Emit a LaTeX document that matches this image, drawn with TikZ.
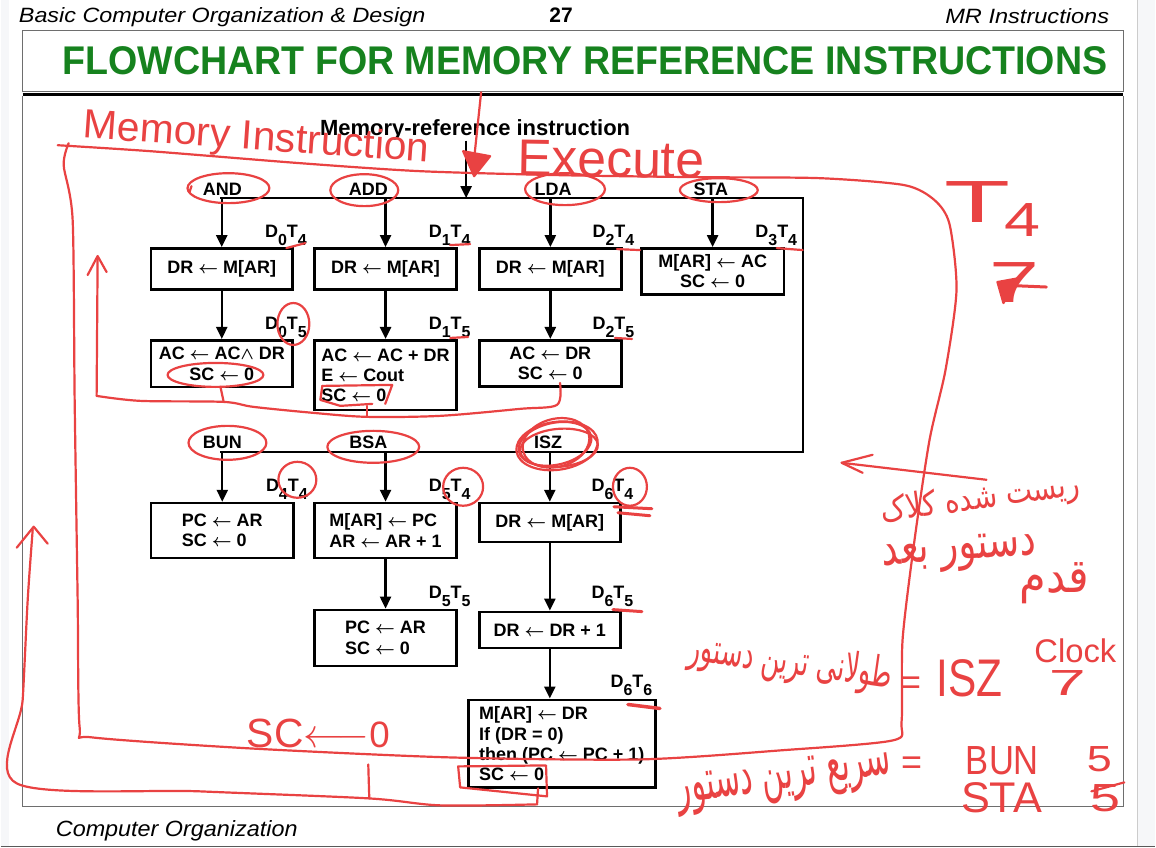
\documentclass[tikz,border=0pt]{standalone}
\usepackage{fontspec}
\usepackage{graphicx}
\setmainfont{Liberation Sans}
\newfontfamily\fafont[Script=Arabic]{DejaVu Sans}
\TeXXeTstate=1
\usetikzlibrary{arrows.meta}
\definecolor{titlegreen}{RGB}{22,130,30}
\definecolor{ink}{RGB}{233,66,66}
\definecolor{framegray}{RGB}{110,110,110}
\definecolor{pagebg}{RGB}{246,247,249}
\newcommand{\lar}{\mbox{\boldmath$\leftarrow$}}
\newcommand{\lwedge}{\mbox{\boldmath$\wedge$}}
\newcommand{\dtlab}[2]{D\raisebox{-8pt}{\fontsize{16}{16}\selectfont #1}T\raisebox{-8pt}{\fontsize{16}{16}\selectfont #2}}
\tikzset{
  txt/.style={font=\fontsize{18}{20.3}\selectfont\bfseries, inner sep=0pt},
  opbox/.style={txt, draw, line width=2.6pt, anchor=north west, inner xsep=6pt},
  arr/.style={line width=2.4pt, -{Triangle[length=12pt,width=11pt]}},
  bus/.style={line width=2.4pt},
  lab/.style={txt, anchor=base east},
  ink/.style={draw=ink, line width=2.2pt, line cap=round, line join=round},
  hand/.style={text=ink, inner sep=0pt, font=\mdseries},
}
\begin{document}
\begin{tikzpicture}[x=1pt,y=-1pt]
% page
\fill[white] (0,0) rectangle (1156,848);
\fill[pagebg] (0,0) rectangle (8,848);
\fill[pagebg] (1138,0) rectangle (1156,848);
\draw[gray!40, line width=0.8pt] (1138,0) -- (1138,848);
\draw[gray!70!black, line width=1.5pt] (0,847) -- (1156,847);
\useasboundingbox (0,0) rectangle (1156,848);

% header / frames
\node[anchor=base west, inner sep=0pt, font=\itshape] (hdrL) at (18,22) {\resizebox{407pt}{15pt}{Basic Computer Organization \& Design}};
\node[anchor=base, inner sep=0pt, font=\fontsize{21}{21}\selectfont\bfseries] (pg) at (561,22) {27};
\node[anchor=base east, inner sep=0pt, font=\itshape] (hdrR) at (1110,23) {\resizebox{164pt}{15pt}{MR Instructions}};
\draw[framegray, line width=1.2pt] (22,30) rectangle (1124,91);
\node[inner sep=0pt, text=titlegreen, font=\bfseries] (title) at (585,60) {\resizebox{1046pt}{28pt}{FLOWCHART FOR MEMORY REFERENCE INSTRUCTIONS}};
\draw[black, line width=3.5pt] (22,94) -- (1124,94);
\draw[framegray, line width=1.2pt] (22,96) -- (22,807) -- (1124,807) -- (1124,96);
\node[anchor=base west, inner sep=0pt, font=\itshape] (ftr) at (55,837) {\resizebox{242pt}{16pt}{Computer Organization}};

% ---------------- flowchart ----------------
\node[txt, font=\fontsize{22}{22}\selectfont\bfseries] (mri) at (475,130) {Memory-reference instruction};
\coordinate (entry) at (466,198);
\coordinate (tl) at (220,198);
\coordinate (tr) at (803,198);
\coordinate (br) at (803,452);
\coordinate (bl) at (220,452);
\draw[bus] (tl) -- (tr) -- (br) -- (bl);
\draw[arr] (mri.south -| entry) -- (entry);

\node[txt, anchor=base] (nAND) at (222,195) {AND};
\node[txt, anchor=base] (nADD) at (368,195) {ADD};
\node[txt, anchor=base] (nLDA) at (553,195) {LDA};
\node[txt, anchor=base] (nSTA) at (711,195) {STA};
\node[txt, anchor=base] (nBUN) at (222,449) {BUN};
\node[txt, anchor=base] (nBSA) at (368,449) {BSA};
\node[txt, anchor=base] (nISZ) at (548,449) {ISZ};

% row 1
\node[opbox, minimum width=142pt, minimum height=41pt] (r1a) at (149,247) {DR \lar{} M[AR]};
\node[opbox, minimum width=142pt, minimum height=41pt] (r1b) at (313,247) {DR \lar{} M[AR]};
\node[opbox, minimum width=142pt, minimum height=41pt] (r1c) at (478,247) {DR \lar{} M[AR]};
\node[opbox, minimum width=143pt, minimum height=46pt, align=center] (r1d) at (640,247) {M[AR] \lar{} AC\\SC \lar{} 0};
% row 2
\node[opbox, minimum width=142pt, minimum height=47pt, align=center, inner xsep=3pt] (r2a) at (149,339) {AC \lar{} AC\lwedge{} DR\\SC \lar{} 0};
\node[opbox, minimum width=142pt, minimum height=70pt, align=left] (r2b) at (313,339) {AC \lar{} AC + DR\\E \lar{} Cout\\SC \lar{} 0};
\node[opbox, minimum width=142pt, minimum height=46pt, align=center] (r2c) at (478,339) {AC \lar{} DR\\SC \lar{} 0};
% row 3
\node[opbox, minimum width=143pt, minimum height=55pt, align=left] (r3a) at (149,502) {PC \lar{} AR\\SC \lar{} 0};
\node[opbox, minimum width=142pt, minimum height=55pt, align=left] (r3b) at (313,502) {M[AR] \lar{} PC\\AR \lar{} AR + 1};
\node[opbox, minimum width=141pt, minimum height=39pt] (r3c) at (478,502) {DR \lar{} M[AR]};
% row 4
\node[opbox, minimum width=142pt, minimum height=56pt, align=left] (r4b) at (313,609) {PC \lar{} AR\\SC \lar{} 0};
\node[opbox, minimum width=141pt, minimum height=36pt] (r4c) at (478,611) {DR \lar{} DR + 1};
% row 5
\node[opbox, minimum width=187pt, minimum height=88pt, align=left] (r5c) at (467,699) {M[AR] \lar{} DR\\If (DR = 0)\\then (PC \lar{} PC + 1)\\SC \lar{} 0};

% arrows
\draw[arr] (r1a.north |- tl) -- (r1a.north);
\draw[arr] (r1b.north |- tl) -- (r1b.north);
\draw[arr] (r1c.north |- tl) -- (r1c.north);
\draw[arr] (r1d.north |- tl) -- (r1d.north);
\draw[arr] (r1a.south) -- (r2a.north);
\draw[arr] (r1b.south) -- (r2b.north);
\draw[arr] (r1c.south) -- (r2c.north);
\draw[arr] (r3a.north |- bl) -- (r3a.north);
\draw[arr] (r3b.north |- bl) -- (r3b.north);
\draw[arr] (r3c.north |- bl) -- (r3c.north);
\draw[arr] (r3b.south) -- (r4b.north);
\draw[arr] (r3c.south) -- (r4c.north);
\draw[arr] (r4c.south) -- (r4c.south |- r5c.north);

% timing labels
\node[lab] (l1a) at ([shift={(13,-10)}]r1a.north east) {\dtlab04};
\node[lab] (l1b) at ([shift={(13,-10)}]r1b.north east) {\dtlab14};
\node[lab] (l1c) at ([shift={(12,-10)}]r1c.north east) {\dtlab24};
\node[lab] (l1d) at ([shift={(12,-10)}]r1d.north east) {\dtlab34};
\node[lab] (l2a) at ([shift={(13,-9)}]r2a.north east) {\dtlab05};
\node[lab] (l2b) at ([shift={(13,-9)}]r2b.north east) {\dtlab15};
\node[lab] (l2c) at ([shift={(12,-9)}]r2c.north east) {\dtlab25};
\node[lab] (l3a) at ([shift={(13,-10)}]r3a.north east) {\dtlab44};
\node[lab] (l3b) at ([shift={(13,-10)}]r3b.north east) {\dtlab54};
\node[lab] (l3c) at ([shift={(12,-10)}]r3c.north east) {\dtlab64};
\node[lab] (l4b) at ([shift={(13,-10)}]r4b.north east) {\dtlab55};
\node[lab] (l4c) at ([shift={(12,-12)}]r4c.north east) {\dtlab65};
\node[lab] (l5c) at ([shift={(-4,-11)}]r5c.north east) {\dtlab66};

% ---------------- red handwriting ----------------
% main loop
\draw[ink] plot[smooth, tension=0.45] coordinates {(57,145) (150,151) (300,163) (420,171) (560,175) (700,177) (820,178) (905,185) (935,200) (950,224) (957,290) (946,370) (930,440) (915,540) (903,640) (902,722) (893,741) (780,751) (640,760) (450,758) (250,749) (92,738) (79,728) (77,600) (74,400) (72,220) (63,165) (68,143)};
% entry arrow
\draw[ink] (481,92) -- (473,168);
\draw[ink, fill=ink] (463,151) -- (490,156) -- (474,176) -- cycle;
\node[hand, rotate=-4] (memi) at (256,139) {\resizebox{347pt}{!}{Memory Instruction}};
\node[hand, rotate=-1] (exec) at (611,159) {\resizebox{187pt}{!}{Execute}};
\draw[ink] (191,186) -- (189,192);
% circles around labels
\draw[ink] (228,188) ellipse [x radius=41pt, y radius=15pt];
\draw[ink] (364,190) ellipse [x radius=34pt, y radius=16pt];
\draw[ink] (565,189) ellipse [x radius=40pt, y radius=16pt];
\draw[ink] (719,190) ellipse [x radius=39pt, y radius=12pt];
\draw[ink] (227,443) ellipse [x radius=39pt, y radius=17pt];
\draw[ink] (373,447) ellipse [x radius=46pt, y radius=16pt];
\draw[ink] (557,446) ellipse [x radius=41pt, y radius=24pt, rotate=8];
\draw[ink] (555,444) ellipse [x radius=37pt, y radius=21pt, rotate=12];
\draw[ink] (559,448) ellipse [x radius=39pt, y radius=19pt, rotate=5];
\draw[ink] (556,443) ellipse [x radius=34pt, y radius=24pt, rotate=15];
% subscript marks
\draw[ink] (286,248) -- (305,243);
\draw[ink] (450,245) -- (470,244);
\draw[ink] (617,249) -- (640,250);
\draw[ink] (777,248) -- (803,250);
\draw[ink] (450,338) -- (468,337);
\draw[ink] (615,338) -- (632,339);
\draw[ink] (293,324) ellipse [x radius=16pt, y radius=21pt];
\draw[ink] (297,480) ellipse [x radius=19pt, y radius=18pt];
\draw[ink] (463,487) ellipse [x radius=20pt, y radius=19pt];
\draw[ink] (630,487) ellipse [x radius=17pt, y radius=19pt];
\draw[ink, line width=3pt] (614,507) -- (652,509) (618,513) -- (650,516);
\draw[ink, line width=3pt] (613,610) -- (642,612);
\draw[ink, line width=3.5pt] (628,705) -- (660,709);
% row 2 SC marks and return line
\draw[ink] (215,375) ellipse [x radius=48pt, y radius=12pt];
\draw[ink] (322,386) -- (392,385) -- (385,404);
\draw[ink] (322,386) -- (320,400) -- (340,406) -- (372,404);
\draw[ink] (220,387) -- (223,401);
\draw[ink] (367,406) -- (367,417);
\draw[ink] plot[smooth, tension=0.5] coordinates {(96,396) (140,401) (223,402) (253,407) (313,413) (367,417) (440,416) (520,409) (557,405) (560,383)};
\draw[ink] (96,396) -- (97,257);
\draw[ink] (87,275) -- (97,256) -- (106,272);
% row 5 SC box and outer return line
\draw[ink] (458,767) -- (546,766) -- (547,797) -- (460,788) -- cycle;
\draw[ink] (538,789) -- (537,805);
\draw[ink] plot[smooth, tension=0.5] coordinates {(537,805) (440,806) (368,799) (200,792) (16,784) (22,700) (27,600) (32,530)};
\draw[ink] (368,765) -- (369,799);
\draw[ink] (16,548) -- (33,527) -- (47,544);
\node[hand] (sc0) at (318,734) {\resizebox{143pt}{!}{SC$\longleftarrow$\raisebox{0pt}{\small 0}}};
% right side notes
\node[hand, anchor=north west] (t4) at (945,181) {\resizebox{66pt}{41pt}{T}\hspace{-6pt}\raisebox{-14pt}{\resizebox{36pt}{33pt}{4}}};
\node[hand, anchor=north west] (seven) at (990,262) {\resizebox{50pt}{40pt}{7}};
\draw[ink, line width=3pt] (1000,285) -- (1047,287);
\draw[ink, fill=ink] (998,282) -- (1020,278) -- (1004,303) -- cycle;
\draw[ink] (987,480) -- (842,463);
\draw[ink] (873,455) -- (842,463) -- (863,473);
\node[hand, rotate=8] (fa2) at (981,500) {\resizebox{200pt}{26pt}{\fafont\beginR ریست شده کلاک\endR}};
\node[hand, rotate=4] (fa3) at (960,554) {\resizebox{155pt}{24pt}{\fafont\beginR دستور بعد\endR}};
\node[hand] (fa4) at (1055,584) {\resizebox{70pt}{30pt}{\fafont\beginR قدم\endR}};
\node[hand, rotate=-8] (fa1) at (791,664) {\resizebox{205pt}{32pt}{\fafont\beginR طولانی ترین دستور\endR}};
\node[hand] (eq1) at (911,686) {\resizebox{21pt}{!}{=}};
\node[hand] (isz) at (970,679) {\resizebox{66pt}{37pt}{ISZ}};
\node[hand] (clk) at (1076,651) {\resizebox{82pt}{!}{Clock}};
\node[hand] (c7) at (1068,683) {\resizebox{37pt}{25pt}{7}};
\node[hand, rotate=8] (fa5) at (785,782) {\resizebox{216pt}{28pt}{\fafont\beginR سریع ترین دستور\endR}};
\node[hand] (eq2) at (912,766) {\resizebox{21pt}{!}{=}};
\node[hand] (bun) at (1003,761) {\resizebox{73pt}{28pt}{BUN}};
\node[hand] (b5) at (1100,760) {\resizebox{25pt}{25pt}{5}};
\node[hand] (sta) at (1002,798) {\resizebox{81pt}{30pt}{STA}};
\node[hand] (s5) at (1106,799) {\resizebox{30pt}{27pt}{5}};
\draw[ink] (1092,792) -- (1125,783);
\end{tikzpicture}
\end{document}
